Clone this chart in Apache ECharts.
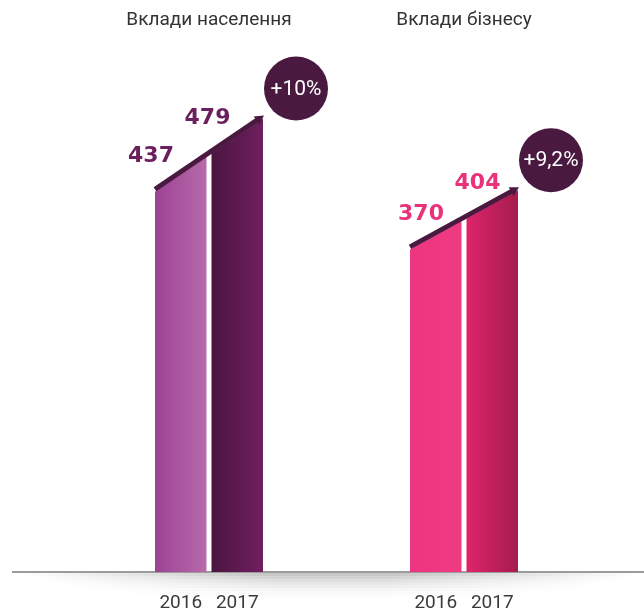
<!DOCTYPE html>
<html>
<head>
<meta charset="utf-8">
<script src="https://cdn.jsdelivr.net/npm/echarts@6/dist/echarts.min.js"></script>
<style>
  html, body { margin: 0; padding: 0; background: #fff; }
  #chart { width: 644px; height: 612px; }
</style>
</head>
<body>
<div id="chart"></div>
<script>
// дані
const groups = ['Вклади населення', 'Вклади бізнесу'];
const years = ['2016', '2017'];
const values2016 = [437, 370];
const values2017 = [479, 404];
const growth = ['+10%', '+9,2%'];

// кольори для кожної групи
const barColors = [
  [['#9c4394', '#b76aab'], ['#4a1540', '#701f5f']],
  [['#ee3580', '#ef3b83'], ['#de246b', '#a51c4e']]
];
const labelColors = ['#6b1f5d', '#e8327a'];
const labelDx = [-4, 11];
const darkColor = '#4a1940';

const myChart = echarts.init(document.getElementById('chart'));

function renderItem(params, api) {
  const idx = api.value(0);
  const base = api.coord([idx, 0]);
  const cx = base[0], by = base[1];
  const y1 = api.coord([idx, api.value(1)])[1];
  const y2 = api.coord([idx, api.value(2)])[1];
  const bw = 51.5, gap = 5;
  const xc1 = cx - gap / 2 - bw / 2, xc2 = cx + gap / 2 + bw / 2;
  const m = (y2 - y1) / (xc2 - xc1);
  const yAt = x => y1 + m * (x - xc1);
  const l1 = cx - gap / 2 - bw, r1 = cx - gap / 2;
  const l2 = cx + gap / 2, r2 = cx + gap / 2 + bw;
  const cols = barColors[idx];

  const grad = c => new echarts.graphic.LinearGradient(0, 0, 1, 0, [
    { offset: 0, color: c[0] }, { offset: 1, color: c[1] }
  ]);

  // стрілка
  const len = Math.sqrt(1 + m * m);
  const ux = 1 / len, uy = m / len;
  const tip = [r2 + 1, yAt(r2 + 1) - 2.5];
  const headL = 9, headW = 5;
  const hb = [tip[0] - ux * headL, tip[1] - uy * headL];
  const circ = [tip[0] + 32, tip[1] - 27];

  const vals = [api.value(1), api.value(2)];
  const lefts = [l1, l2];
  const centers = [xc1, xc2];

  const children = [
    { type: 'polygon', shape: { points: [[l1, by], [l1, yAt(l1)], [r1, yAt(r1)], [r1, by]] }, style: { fill: grad(cols[0]) } },
    { type: 'polygon', shape: { points: [[l2, by], [l2, yAt(l2)], [r2, yAt(r2)], [r2, by]] }, style: { fill: grad(cols[1]) } },
    { type: 'line', shape: { x1: l1, y1: yAt(l1) - 2.5, x2: hb[0] + ux * 2, y2: hb[1] + uy * 2 }, style: { stroke: darkColor, lineWidth: 5, lineCap: 'butt' } },
    { type: 'polygon', shape: { points: [tip, [hb[0] - uy * headW, hb[1] + ux * headW], [hb[0] + uy * headW, hb[1] - ux * headW]] }, style: { fill: darkColor } },
    { type: 'circle', shape: { cx: circ[0], cy: circ[1], r: 32 }, style: { fill: darkColor } },
    { type: 'text', x: circ[0], y: circ[1] + 1, style: { text: growth[idx], fill: '#fff', font: '21px Roboto', align: 'center', verticalAlign: 'middle' } }
  ];
  for (let k = 0; k < 2; k++) {
    children.push({
      type: 'text', x: lefts[k] + labelDx[idx], y: yAt(lefts[k]) - 35,
      style: { text: String(vals[k]), fill: labelColors[idx], font: 'bold 22px "DejaVu Sans"', align: 'center', verticalAlign: 'middle' }
    });
    children.push({
      type: 'text', x: centers[k], y: by + 31,
      style: { text: years[k], fill: '#3a3a3a', font: '19px Roboto', align: 'center', verticalAlign: 'middle' }
    });
  }
  return { type: 'group', children: children };
}

// тінь під базовою лінією
const shadow = [];
const alphas = [0.22, 0.17, 0.13, 0.095, 0.065, 0.04, 0.025, 0.012];
alphas.forEach((a, i) => {
  shadow.push({
    type: 'rect', silent: true, z: 0,
    shape: { x: 20 + i * 12, y: 573 + i * 3, width: 620 - i * 24, height: 3 },
    style: {
      fill: new echarts.graphic.LinearGradient(0, 0, 1, 0, [
        { offset: 0, color: 'rgba(0,0,0,0)' },
        { offset: 0.4, color: 'rgba(0,0,0,' + a + ')' },
        { offset: 0.6, color: 'rgba(0,0,0,' + a + ')' },
        { offset: 1, color: 'rgba(0,0,0,0)' }
      ])
    }
  });
});
shadow.push({ type: 'line', silent: true, z: 1, shape: { x1: 12, y1: 572, x2: 644, y2: 572 }, style: { stroke: '#7a7a7a', lineWidth: 1.5 } });

const option = {
  animation: false,
  grid: { left: 81.5, right: 52.5, top: 26, bottom: 40 },
  xAxis: {
    type: 'category', data: groups, position: 'top',
    axisLine: { show: false }, axisTick: { show: false }, splitLine: { show: false },
    axisLabel: { fontSize: 19, color: '#333', fontFamily: 'Roboto', verticalAlign: 'middle', margin: 6 }
  },
  yAxis: { type: 'value', min: 0, max: 600, show: false },
  graphic: shadow,
  series: [{
    type: 'custom', clip: false, z: 5,
    renderItem: renderItem,
    encode: { x: 0, y: [1, 2] },
    data: groups.map((g, i) => [i, values2016[i], values2017[i]])
  }]
};
myChart.setOption(option);
window.addEventListener('resize', function () { myChart.resize(); });
</script>
</body>
</html>
